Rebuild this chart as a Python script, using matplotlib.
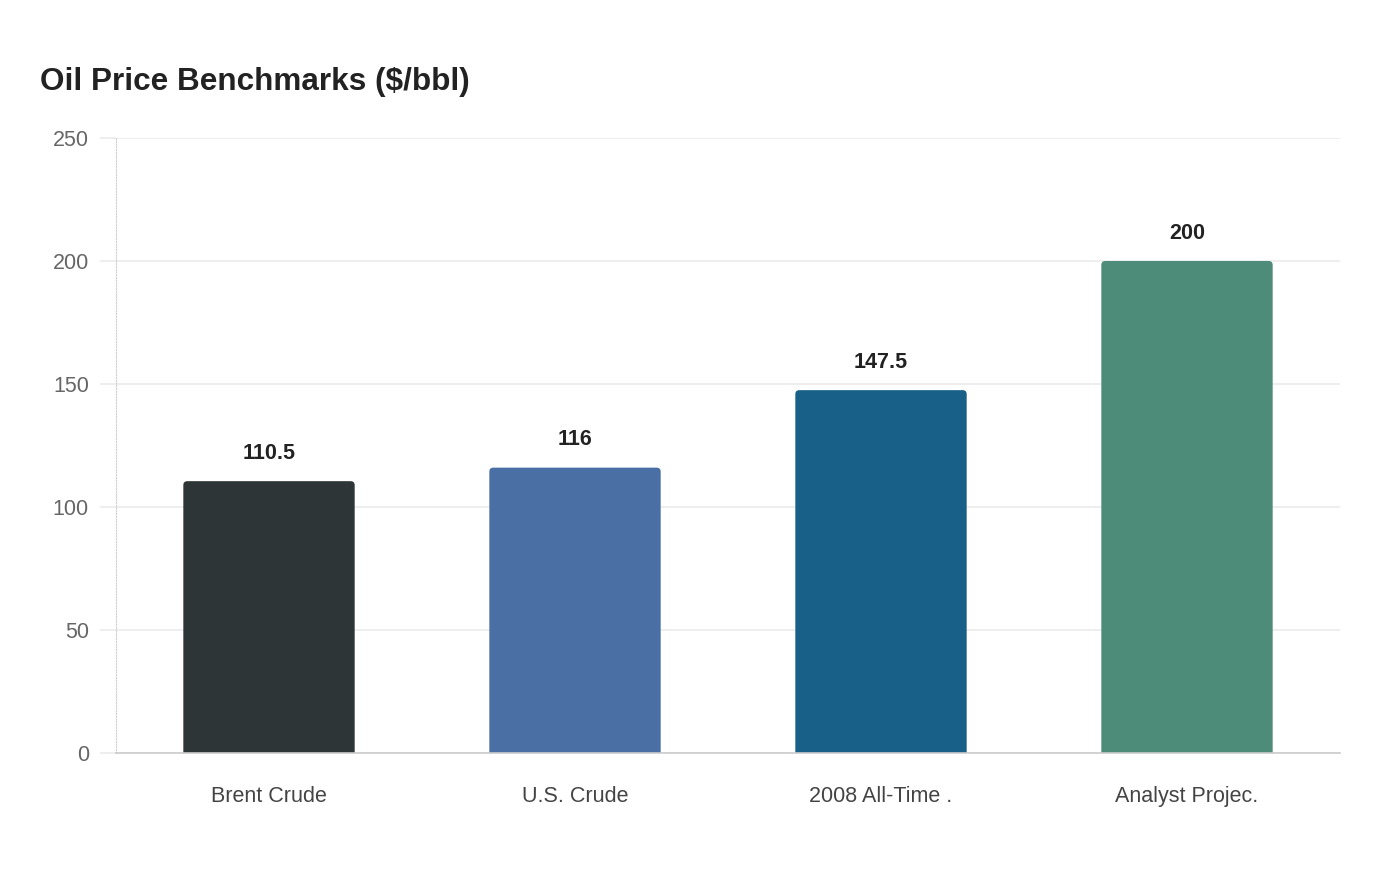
import matplotlib.pyplot as plt
from matplotlib.patches import FancyBboxPatch

categories = ["Brent Crude", "U.S. Crude", "2008 All-Time .", "Analyst Projec."]
prices = [110.5, 116, 147.5, 200]
value_labels = ["110.5", "116", "147.5", "200"]
colors = ["#2e3537", "#4a6fa5", "#186087", "#4e8c7a"]
yticks = [0, 50, 100, 150, 200, 250]

plt.rcParams['font.family'] = ['Liberation Sans', 'DejaVu Sans']

fig = plt.figure(figsize=(14, 8.8), dpi=100)
ax = fig.add_axes([116 / 1400, 1 - 753 / 880, 1224 / 1400, 615 / 880])

x = list(range(len(categories)))
bars = ax.bar(x, prices, width=0.56, color=colors)
ax.set_xlim(-0.5, len(categories) - 0.5)
ax.set_ylim(0, 250)

# swap plain bars for ones with rounded top corners
px_x = 1224 / len(categories)
px_y = 615 / 250
for rect, c in zip(bars, colors):
    x0, w, h = rect.get_x(), rect.get_width(), rect.get_height()
    rect.remove()
    patch = FancyBboxPatch((x0, -10), w, h + 10,
                           boxstyle="round,pad=0,rounding_size=%f" % (4 / px_x),
                           mutation_aspect=px_x / px_y,
                           facecolor=c, edgecolor="none", clip_on=True)
    ax.add_patch(patch)
    patch.set_clip_path(ax.patch)

for xi, v, lab in zip(x, prices, value_labels):
    ax.annotate(lab, (xi, v), xytext=(0, 12.5), textcoords="offset points",
                ha="center", va="bottom", fontsize=15.5, fontweight="bold",
                color="#222222")

ax.set_yticks(yticks)
ax.set_xticks(x)
ax.set_xticklabels(categories)
ax.grid(axis="y", color="#ebebeb", linewidth=1.2)
ax.set_axisbelow(True)
ax.tick_params(axis="y", length=11.5, color="#ebebeb", width=1.2, pad=8,
               labelsize=15.5, labelcolor="#666666")
ax.tick_params(axis="x", length=0, pad=23.5, labelsize=15.5, labelcolor="#444444")

for s in ["top", "right"]:
    ax.spines[s].set_visible(False)
ax.spines["left"].set_color("#d0d0d0")
ax.spines["left"].set_linestyle((0, (1, 1.5)))
ax.spines["left"].set_linewidth(0.8)
ax.spines["bottom"].set_color("#cccccc")
ax.spines["bottom"].set_linewidth(1.2)

fig.text(40 / 1400, 1 - 82 / 880, "Oil Price Benchmarks ($/bbl)", fontsize=22.7,
         fontweight="bold", color="#222222", ha="left", va="center")

fig.savefig("out.png", dpi=100, facecolor="white")
plt.close(fig)
